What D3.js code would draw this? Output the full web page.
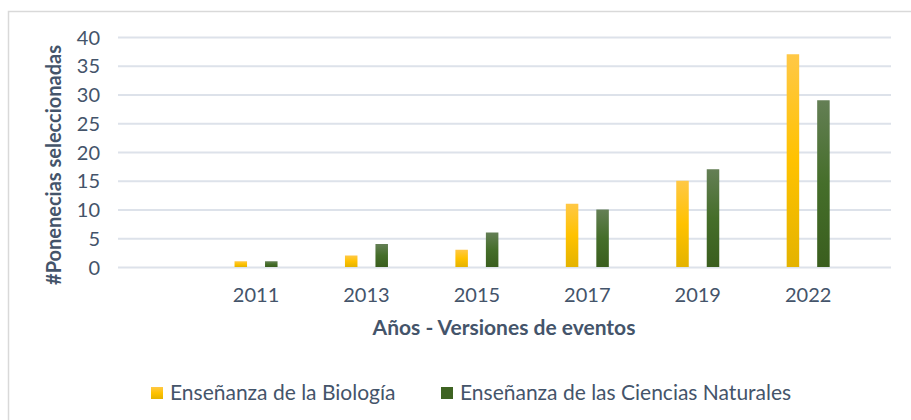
<!DOCTYPE html>
<html><head><meta charset="utf-8">
<script src="https://cdn.jsdelivr.net/npm/d3@7"></script>
<style>body{margin:0;background:#fff;} svg{display:block;}</style>
</head><body>
<script>
const categories = ["2011","2013","2015","2017","2019","2022"];
const seriesNames = ["Enseñanza de la Biología","Enseñanza de las Ciencias Naturales"];
const biologia = [1,2,3,11,15,37];
const naturales = [1,4,6,10,17,29];
const yTicks = [0,5,10,15,20,25,30,35,40];

(function(){
const W=911,H=420;
const svg=d3.select("body").append("svg").attr("width",W).attr("height",H);
const font="Lato, 'Open Sans', sans-serif";
const txt="#44546A";

const defs=svg.append("defs");
const g1=defs.append("linearGradient").attr("id","gy").attr("x1",0).attr("y1",0).attr("x2",0).attr("y2",1);
g1.append("stop").attr("offset","0%").attr("stop-color","#FFC846");
g1.append("stop").attr("offset","50%").attr("stop-color","#FFC200");
g1.append("stop").attr("offset","100%").attr("stop-color","#E4B300");
const g2=defs.append("linearGradient").attr("id","gg").attr("x1",0).attr("y1",0).attr("x2",0).attr("y2",1);
g2.append("stop").attr("offset","0%").attr("stop-color","#647F55");
g2.append("stop").attr("offset","50%").attr("stop-color","#456E2A");
g2.append("stop").attr("offset","100%").attr("stop-color","#3A5E1E");

// frame
svg.append("path").attr("d","M8.5,420 L8.5,11.5 L911,11.5").attr("fill","none").attr("stroke","#D9D9D9").attr("stroke-width",1.5);

const pLeft=118,pRight=891,pTop=37,pBottom=267;
const y=d3.scaleLinear().domain([0,40]).range([pBottom,pTop]);
const x0=d3.scaleBand().domain(categories).range([pLeft,pRight]).paddingInner(0).paddingOuter(0.5).align(0.75);
const bw=x0.bandwidth();
const x1=d3.scaleBand().domain(seriesNames).range([bw/2-30.5,bw/2+30.5]).paddingInner(0.59).paddingOuter(0.295);

// gridlines
const yAxis=d3.axisLeft(y).tickValues(yTicks).tickSize(-(pRight-pLeft)).tickPadding(20);
const ya=svg.append("g").attr("transform",`translate(${pLeft},0)`).call(yAxis);
ya.select(".domain").remove();
ya.selectAll(".tick line").attr("stroke","#DDE2EA").attr("stroke-width",2);
ya.selectAll(".tick text").attr("fill",txt).attr("font-family",font).attr("font-size",20).attr("x",-18).attr("dy","0.36em");

const data=categories.map((c,i)=>({c,vals:[{s:seriesNames[0],v:biologia[i],f:"url(#gy)"},{s:seriesNames[1],v:naturales[i],f:"url(#gg)"}]}));
const grp=svg.append("g").selectAll("g").data(data).join("g").attr("transform",d=>`translate(${x0(d.c)},0)`);
grp.selectAll("rect").data(d=>d.vals).join("rect")
  .attr("x",d=>x1(d.s)).attr("width",x1.bandwidth())
  .attr("y",d=>y(d.v)).attr("height",d=>y(0)-y(d.v))
  .attr("fill",d=>d.f);

// x axis labels
const xAxis=d3.axisBottom(x0).tickSize(0).tickPadding(21);
const xa=svg.append("g").attr("transform",`translate(0,${pBottom})`).call(xAxis);
xa.select(".domain").remove();
xa.selectAll(".tick text").attr("fill",txt).attr("font-family",font).attr("font-size",20);

// titles
svg.append("text").attr("x",504).attr("y",335).attr("text-anchor","middle").attr("fill",txt)
  .attr("font-family",font).attr("font-weight","bold").attr("font-size",21).text("Años - Versiones de eventos");
svg.append("text").attr("transform","translate(61,165) rotate(-90)").attr("text-anchor","middle").attr("fill",txt)
  .attr("font-family",font).attr("font-weight","bold").attr("font-size",20).text("#Ponenecias seleccionadas");

// legend
const leg=[{s:seriesNames[0],f:"url(#gy)",x:151},{s:seriesNames[1],f:"#3E6322",x:441}];
const lg=svg.append("g").selectAll("g").data(leg).join("g").attr("transform",d=>`translate(${d.x},387)`);
lg.append("rect").attr("width",12).attr("height",12).attr("fill",d=>d.f);
lg.append("text").attr("x",19).attr("y",13).attr("fill",txt).attr("font-family",font).attr("font-size",21).text(d=>d.s);
})();
</script>
</body></html>
